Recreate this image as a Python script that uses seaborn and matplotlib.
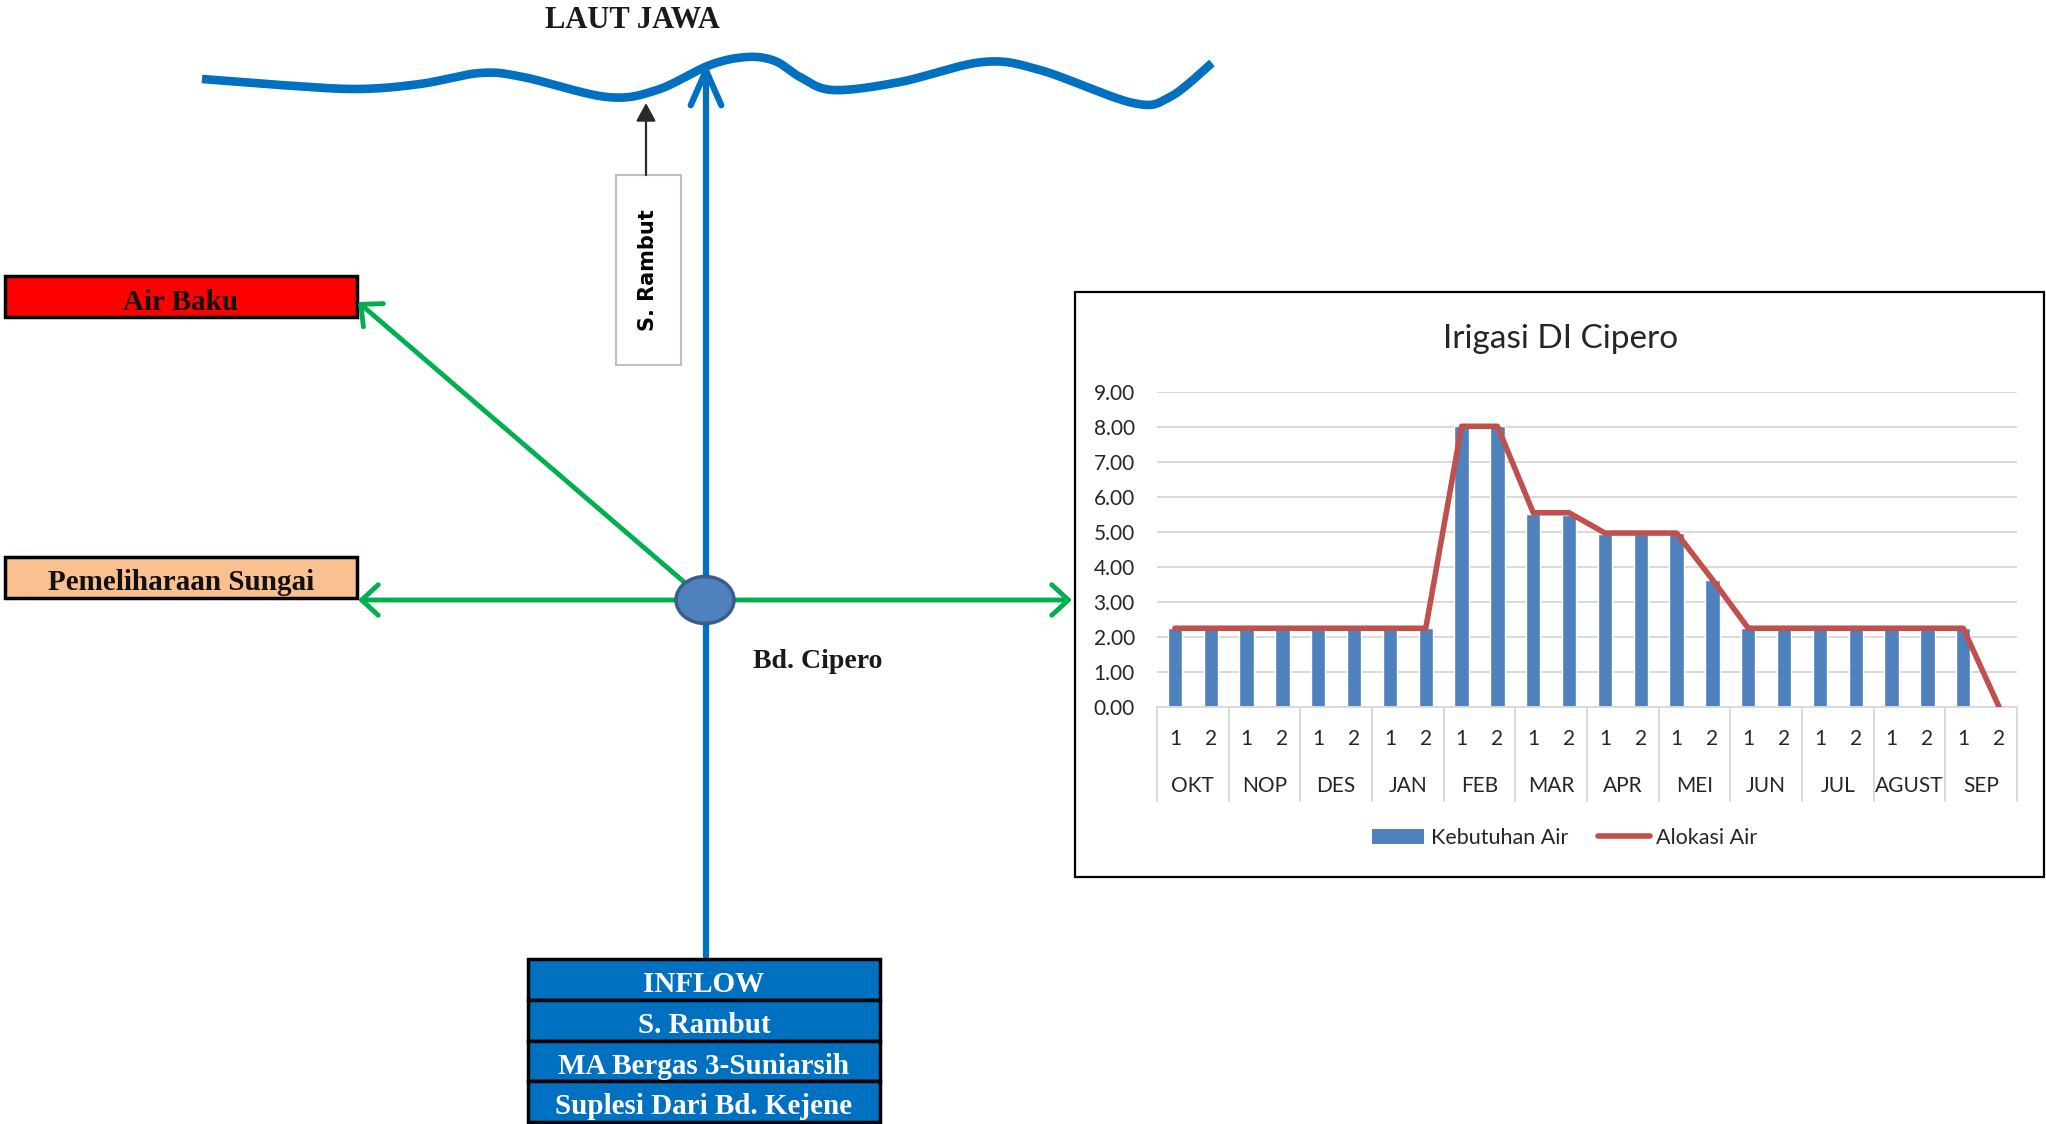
import numpy as np
import pandas as pd
import matplotlib
matplotlib.use("Agg")
import matplotlib.pyplot as plt
import seaborn as sns
from matplotlib.patches import Rectangle, Ellipse, FancyArrowPatch, Patch
from matplotlib.lines import Line2D
import matplotlib.transforms as mtransforms

# ---------------- data ----------------
months = ['OKT', 'NOP', 'DES', 'JAN', 'FEB', 'MAR', 'APR', 'MEI', 'JUN', 'JUL', 'AGUST', 'SEP']
periods = ['1', '2', '1', '2', '1', '2', '1', '2', '1', '2', '1', '2',
           '1', '2', '1', '2', '1', '2', '1', '2', '1', '2', '1', '2']
kebutuhan_air = [2.25, 2.25, 2.25, 2.25, 2.25, 2.25, 2.25, 2.25, 8.02, 8.02, 5.52, 5.48,
                 4.95, 4.95, 4.97, 3.64, 2.25, 2.25, 2.25, 2.25, 2.25, 2.25, 2.25, 0.00]
alokasi_air = [2.25, 2.25, 2.25, 2.25, 2.25, 2.25, 2.25, 2.25, 8.02, 8.02, 5.55, 5.55,
               4.97, 4.97, 4.97, 3.64, 2.25, 2.25, 2.25, 2.25, 2.25, 2.25, 2.25, 0.00]
y_ticks = [0, 1, 2, 3, 4, 5, 6, 7, 8, 9]
chart_title = 'Irigasi DI Cipero'
legend_labels = ['Kebutuhan Air', 'Alokasi Air']

inflow_rows = ['INFLOW', 'S. Rambut', 'MA Bergas 3-Suniarsih', 'Suplesi Dari Bd. Kejene']

sns.set_theme(style='white')
plt.rcParams['font.family'] = ['Liberation Serif', 'DejaVu Sans']

W, H = 2046, 1124
fig = plt.figure(figsize=(W / 100, H / 100), dpi=100)
fig.patch.set_facecolor('white')

# ---------------- diagram layer (pixel coords) ----------------
bg = fig.add_axes([0, 0, 1, 1])
bg.set_xlim(0, W)
bg.set_ylim(H, 0)
bg.axis('off')


def catmull(pts, n=24):
    pts = np.asarray(pts, float)
    P = np.vstack([pts[0], pts, pts[-1]])
    out = []
    t = np.linspace(0, 1, n, endpoint=False)[:, None]
    for i in range(1, len(P) - 2):
        p0, p1, p2, p3 = P[i - 1], P[i], P[i + 1], P[i + 2]
        out.append(0.5 * ((2 * p1) + (-p0 + p2) * t + (2 * p0 - 5 * p1 + 4 * p2 - p3) * t ** 2
                          + (-p0 + 3 * p1 - 3 * p2 + p3) * t ** 3))
    out.append(P[-2][None])
    return np.vstack(out)


wave_pts = [(202, 79), (280, 85), (357, 89), (420, 84), (480, 73), (523, 77), (607, 97),
            (657, 90), (710, 65), (747, 57), (775, 61), (800, 77), (833, 90), (900, 82),
            (983, 62), (1040, 70), (1133, 103), (1170, 97), (1212, 63)]
wv = catmull(wave_pts)
bg.plot(wv[:, 0], wv[:, 1], color='#0070C0', lw=6.2, solid_capstyle='butt', zorder=3)

bg.text(632, 21, 'LAUT JAWA', ha='center', va='center', fontsize=22,
        fontweight='bold', color='#1a1a1a', family='Liberation Serif')

blue = '#0070C0'
green = '#00B050'
node = (705, 600)

# main vertical river arrow
bg.add_patch(FancyArrowPatch((706, 959), (706, 60),
                             arrowstyle='->,head_length=1.25,head_width=0.55',
                             mutation_scale=20, lw=4.5, color=blue, zorder=4))

# green outflow arrows
for tip in [(358, 302), (358, 600), (1072, 600)]:
    bg.add_patch(FancyArrowPatch(node, tip,
                                 arrowstyle='->,head_length=0.6,head_width=0.55',
                                 mutation_scale=20, lw=3.5, color=green, zorder=4,
                                 shrinkA=0, shrinkB=0))

# node
bg.add_patch(Ellipse(node, 58, 47, facecolor='#4F81BD', edgecolor='#385D8A', lw=2.5, zorder=6))
bg.text(818, 662, 'Bd. Cipero', ha='center', va='center', fontsize=20,
        fontweight='bold', color='#1a1a1a', family='Liberation Serif')

# S. Rambut label box + small arrow
bg.add_patch(Rectangle((616, 175), 65, 190, facecolor='white', edgecolor='#BFBFBF', lw=1.5, zorder=3))
bg.text(648, 270, 'S. Rambut', rotation=90, ha='center', va='center', fontsize=15,
        fontweight='bold', color='black', family='DejaVu Sans', zorder=4)
bg.add_patch(FancyArrowPatch((646, 175), (646, 103),
                             arrowstyle='-|>,head_length=0.55,head_width=0.3',
                             mutation_scale=20, lw=1.6, color='#2a2a2a', zorder=4,
                             shrinkA=0, shrinkB=0))

# left boxes
bg.add_patch(Rectangle((5, 276), 352, 41, facecolor='#FF0000', edgecolor='black', lw=2.5, zorder=3))
bg.text(181, 302, 'Air Baku', ha='center', va='center', fontsize=21,
        fontweight='bold', color='#111111', family='Liberation Serif', zorder=4)
bg.add_patch(Rectangle((5, 557), 352, 41, facecolor='#FAC090', edgecolor='black', lw=2.5, zorder=3))
bg.text(181, 583, 'Pemeliharaan Sungai', ha='center', va='center', fontsize=21,
        fontweight='bold', color='#111111', family='Liberation Serif', zorder=4)

# inflow table
row_edges = [959, 1000, 1041, 1081, 1122]
for i, label in enumerate(inflow_rows):
    y0, y1 = row_edges[i], row_edges[i + 1]
    bg.add_patch(Rectangle((528, y0), 352, y1 - y0, facecolor=blue, edgecolor='black', lw=2.5, zorder=5))
    bg.text(704, (y0 + y1) / 2 + 5, label, ha='center', va='center', fontsize=21,
            fontweight='bold', color='white', family='Liberation Serif', zorder=6)

# chart frame
bg.add_patch(Rectangle((1075, 292), 969, 585, facecolor='white', edgecolor='black', lw=1.6, zorder=2))

# ---------------- chart ----------------
L, R, T, B = 1157, 2017, 392, 707
ax = fig.add_axes([L / W, 1 - B / H, (R - L) / W, (B - T) / H])
ax.set_facecolor('none')

df = pd.DataFrame({'idx': np.arange(len(kebutuhan_air)), 'kebutuhan': kebutuhan_air,
                   'alokasi': alokasi_air})
sns.barplot(data=df, x='idx', y='kebutuhan', color='#4F81BD', saturation=1, width=0.4,
            ax=ax, zorder=2)
sns.lineplot(x=np.arange(len(alokasi_air)), y=alokasi_air, color='#C0504D', lw=4.0,
             ax=ax, zorder=3, solid_joinstyle='round', solid_capstyle='round')

ax.set_xlim(-0.5, len(periods) - 0.5)
ax.set_ylim(0, 9)
ax.set_yticks(y_ticks)
ax.set_yticklabels([f'{v:.2f}' for v in y_ticks])
ax.set_xticks(np.arange(len(periods)))
ax.set_xticklabels(periods)
ax.set_xlabel('')
ax.set_ylabel('')
ax.grid(axis='y', color='#D9D9D9', lw=1.4, zorder=0)
ax.grid(axis='x', visible=False)
ax.set_axisbelow(True)
for s in ['top', 'right', 'left']:
    ax.spines[s].set_visible(False)
ax.spines['bottom'].set_color('#D9D9D9')
ax.spines['bottom'].set_linewidth(1.4)
ax.tick_params(axis='both', length=0, labelsize=15, colors='#262626')
ax.tick_params(axis='y', pad=16)
ax.tick_params(axis='x', pad=16)
for lab in ax.get_xticklabels() + ax.get_yticklabels():
    lab.set_family('Lato')

trans = mtransforms.blended_transform_factory(ax.transData, ax.transAxes)
depth = (801 - B) / (B - T)
for k in range(len(months) + 1):
    ax.plot([k * 2 - 0.5, k * 2 - 0.5], [0, -depth], transform=trans, color='#D9D9D9',
            lw=1.4, clip_on=False)
for k, m in enumerate(months):
    ax.text(k * 2 + 0.5, -(786 - B) / (B - T), m, transform=trans, ha='center', va='center',
            fontsize=15, color='#262626', family='Lato')

fig.text(1561 / W, 1 - 339 / H, chart_title, ha='center', va='center', fontsize=24,
         color='#262626', family='Lato')

handles = [Patch(facecolor='#4F81BD', edgecolor='none'),
           Line2D([0], [0], color='#C0504D', lw=4.0)]
fig.legend(handles, legend_labels, loc='center', bbox_to_anchor=(1565 / W, 1 - 838 / H),
           ncol=2, frameon=False, prop={'family': 'Lato', 'size': 15.5},
           handlelength=2.4, handletextpad=0.3, columnspacing=1.4, labelcolor='#262626')

fig.savefig('out.png', dpi=100, facecolor='white')
